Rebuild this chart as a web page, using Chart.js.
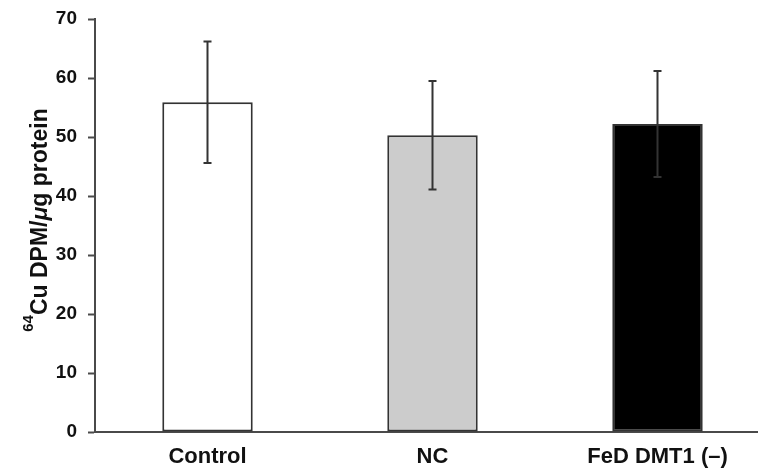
<!DOCTYPE html>
<html>
<head>
<meta charset="utf-8">
<script src="https://cdn.jsdelivr.net/npm/chart.js@4.4.0/dist/chart.umd.min.js"></script>
<style>
  html, body { margin: 0; padding: 0; background: #fff; }
  #wrap { width: 758px; height: 470px; overflow: hidden; position: relative; }
  #box { width: 770px; height: 470px; position: absolute; left: 0; top: 0; }
</style>
</head>
<body>
<div id="wrap"><div id="box"><canvas id="chart"></canvas></div></div>
<script>
var groups = ['Control', 'NC', 'FeD DMT1 (\u2013)'];
var means = [55.9, 50.3, 52.2];
var errors = [10.3, 9.2, 9.0];
var yTicks = [0, 10, 20, 30, 40, 50, 60, 70];

var fillColors = ['#ffffff', '#cccccc', '#000000'];
var axisColor = '#4a4a4a';
var fontFamily = '"Liberation Sans", Arial, Helvetica, sans-serif';

// error bars, drawn on top of the bars
var errorBarPlugin = {
    id: 'errorBars',
    afterDatasetsDraw: function(chart) {
        var ctx = chart.ctx;
        var yScale = chart.scales.y;
        var meta = chart.getDatasetMeta(0);
        ctx.save();
        ctx.strokeStyle = '#333333';
        ctx.lineWidth = 2;
        meta.data.forEach(function(bar, i) {
            var x = bar.x;
            var top = yScale.getPixelForValue(means[i] + errors[i]);
            var bottom = yScale.getPixelForValue(means[i] - errors[i]);
            ctx.beginPath();
            ctx.moveTo(x, top);
            ctx.lineTo(x, bottom);
            ctx.moveTo(x - 4, top);
            ctx.lineTo(x + 4, top);
            ctx.moveTo(x - 4, bottom);
            ctx.lineTo(x + 4, bottom);
            ctx.stroke();
        });
        ctx.restore();
    }
};

// y axis title with a real superscript
var yTitlePlugin = {
    id: 'yTitle',
    afterDraw: function(chart) {
        var ctx = chart.ctx;
        var big = 'bold 23px ' + fontFamily;
        var small = 'bold 15px ' + fontFamily;
        var italic = 'italic bold 23px ' + fontFamily;
        var parts = [
            { text: '64', font: small, rise: 14 },
            { text: 'Cu DPM/', font: big, rise: 0 },
            { text: '\u03bc', font: italic, rise: 0 },
            { text: 'g protein', font: big, rise: 0 }
        ];
        ctx.save();
        var total = 0;
        parts.forEach(function(p) {
            ctx.font = p.font;
            p.w = ctx.measureText(p.text).width;
            total += p.w;
        });
        ctx.translate(47, 220);
        ctx.rotate(-Math.PI / 2);
        ctx.fillStyle = '#111111';
        ctx.textBaseline = 'alphabetic';
        var x = -total / 2;
        parts.forEach(function(p) {
            ctx.font = p.font;
            ctx.fillText(p.text, x, -p.rise);
            x += p.w;
        });
        ctx.restore();
    }
};

new Chart(document.getElementById('chart'), {
    type: 'bar',
    data: {
        labels: groups,
        datasets: [{
            data: means,
            backgroundColor: fillColors,
            borderColor: '#333333',
            borderWidth: 2,
            borderSkipped: false,
            categoryPercentage: 1.0,
            barPercentage: 0.402
        }]
    },
    options: {
        responsive: true,
        maintainAspectRatio: false,
        animation: false,
        layout: { padding: { top: 19, right: 0, bottom: 0, left: 0 } },
        plugins: {
            legend: { display: false },
            tooltip: { enabled: false }
        },
        scales: {
            x: {
                grid: { display: false },
                border: { display: true, color: axisColor, width: 2 },
                ticks: {
                    color: '#111111',
                    padding: 4,
                    font: { family: fontFamily, size: 22, weight: 'bold' }
                },
                afterFit: function(scale) { scale.height = 38; }
            },
            y: {
                min: 0,
                max: 70,
                afterBuildTicks: function(scale) {
                    scale.ticks = yTicks.map(function(v) { return { value: v }; });
                },
                grid: {
                    drawOnChartArea: false,
                    drawTicks: true,
                    tickLength: 7,
                    tickWidth: 2,
                    color: axisColor
                },
                border: { display: true, color: axisColor, width: 2 },
                ticks: {
                    color: '#111111',
                    padding: 11,
                    font: { family: fontFamily, size: 19, weight: 'bold' }
                },
                afterFit: function(scale) {
                    scale.width = 95;
                    scale.paddingTop = 0;
                    scale.paddingBottom = 0;
                }
            }
        }
    },
    plugins: [errorBarPlugin, yTitlePlugin]
});
</script>
</body>
</html>
